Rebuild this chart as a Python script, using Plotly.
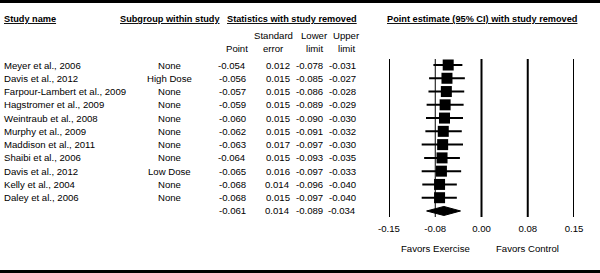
import plotly.graph_objects as go

# ---------------- data ----------------
studies = ["Meyer et al., 2006", "Davis et al., 2012", "Farpour-Lambert et al., 2009",
           "Hagstromer et al., 2009", "Weintraub et al., 2008", "Murphy et al., 2009",
           "Maddison et al., 2011", "Shaibi et al., 2006", "Davis et al., 2012",
           "Kelly et al., 2004", "Daley et al., 2006"]
subgroups = ["None", "High Dose", "None", "None", "None", "None", "None", "None",
             "Low Dose", "None", "None"]
points = [-0.054, -0.056, -0.057, -0.059, -0.060, -0.062, -0.063, -0.064, -0.065, -0.068, -0.068]
std_err = [0.012, 0.015, 0.015, 0.015, 0.015, 0.015, 0.017, 0.015, 0.016, 0.014, 0.015]
lower = [-0.078, -0.085, -0.086, -0.089, -0.090, -0.091, -0.097, -0.093, -0.097, -0.096, -0.097]
upper = [-0.031, -0.027, -0.028, -0.029, -0.030, -0.032, -0.030, -0.035, -0.033, -0.040, -0.040]
summary_point = -0.061
summary_se = 0.014
summary_lower = -0.089
summary_upper = -0.034
tick_vals = [-0.15, -0.075, 0.0, 0.075, 0.15]
tick_text = ["-0.15", "-0.08", "0.00", "0.08", "0.15"]

# ---------------- layout helpers ----------------
W, H = 600, 273
ROW0, ROWH = 65.0, 13.27
FONT = "Liberation Sans, Arial, sans-serif"
FS = 9.6
FSB = 9.2


def py2row(py):
    return (py - ROW0) / ROWH


def px(x):
    return x / W


def ppy(y):
    return 1 - y / H


n = len(studies)
rows = list(range(n))
sum_row = n

fig = go.Figure()

# study estimates with 95% CI
fig.add_trace(go.Scatter(
    x=points, y=rows, mode="markers",
    marker=dict(symbol="square", size=11, color="black", line=dict(width=0)),
    error_x=dict(type="data", symmetric=False,
                 array=[u - p for u, p in zip(upper, points)],
                 arrayminus=[p - l for l, p in zip(lower, points)],
                 color="black", thickness=2, width=0),
    showlegend=False, hoverinfo="skip"))

# summary diamond
dh = 0.34
fig.add_trace(go.Scatter(
    x=[summary_lower, summary_point, summary_upper, summary_point, summary_lower],
    y=[sum_row, sum_row - dh, sum_row, sum_row + dh, sum_row],
    mode="lines", fill="toself", fillcolor="black", line=dict(color="black", width=1),
    showlegend=False, hoverinfo="skip"))

# vertical reference lines
y_top, y_bot = py2row(59), py2row(217)
for tv in tick_vals:
    fig.add_shape(type="line", xref="x", yref="y", x0=tv, x1=tv, y0=y_top, y1=y_bot,
                  line=dict(color="black", width=1 if tv == -0.075 else 2))

ann = []


def add(text, x, y, xanchor="left", yref="y", xref="paper", bold=False, under=False):
    f = dict(family=FONT, size=FSB if bold else FS, color="black")
    if bold:
        f["weight"] = "bold"
    if under:
        f["lineposition"] = "under"
    ann.append(dict(text=text, x=x, y=y, xref=xref, yref=yref, xanchor=xanchor,
                    yanchor="middle", showarrow=False, font=f))


# headers
add("Study name", px(2), ppy(19), "left", "paper", bold=True, under=True)
add("Subgroup within study", px(170), ppy(19), "center", "paper", bold=True, under=True)
add("Statistics with study removed", px(292), ppy(19), "center", "paper", bold=True, under=True)
add("Point estimate (95% CI) with study removed", px(482), ppy(19), "center", "paper",
    bold=True, under=True)
add("Point", px(237), ppy(48), "center", "paper")
add("Standard", px(273), ppy(36), "center", "paper")
add("error", px(273), ppy(48), "center", "paper")
add("Lower", px(314), ppy(36), "center", "paper")
add("limit", px(314), ppy(48), "center", "paper")
add("Upper", px(346), ppy(36), "center", "paper")
add("limit", px(346), ppy(48), "center", "paper")

# table rows
for i in rows:
    add(studies[i], px(2), i, "left")
    add(subgroups[i], px(169), i, "center")
    add(f"{points[i]:.3f}", px(248), i, "right")
    add(f"{std_err[i]:.3f}", px(292), i, "right")
    add(f"{lower[i]:.3f}", px(325), i, "right")
    add(f"{upper[i]:.3f}", px(358), i, "right")
add(f"{summary_point:.3f}", px(248), sum_row, "right")
add(f"{summary_se:.3f}", px(292), sum_row, "right")
add(f"{summary_lower:.3f}", px(325), sum_row, "right")
add(f"{summary_upper:.3f}", px(358), sum_row, "right")

# favors labels
add("Favors Exercise", tick_vals[1], ppy(248), "center", "paper", xref="x")
add("Favors Control", tick_vals[3], ppy(248), "center", "paper", xref="x")

# top and bottom borders
for yb in (1.5, 271.5):
    fig.add_shape(type="line", xref="paper", yref="paper", x0=0, x1=1,
                  y0=ppy(yb), y1=ppy(yb), line=dict(color="black", width=3))

fig.update_layout(
    width=W, height=H, margin=dict(l=0, r=0, t=0, b=0, pad=0, autoexpand=False),
    paper_bgcolor="white", plot_bgcolor="white",
    font=dict(family=FONT, size=FS, color="black"),
    annotations=ann,
    xaxis=dict(domain=[px(389), px(574)], range=[-0.15, 0.15],
               tickvals=tick_vals, ticktext=tick_text, showgrid=False, zeroline=False,
               showline=False, ticks="", anchor="free", position=ppy(217),
               automargin=False, ticklabelstandoff=4,
               tickfont=dict(family=FONT, size=FS, color="black"), fixedrange=True),
    yaxis=dict(range=[py2row(H), py2row(0)], visible=False, showgrid=False,
               zeroline=False, fixedrange=True, automargin=False),
    showlegend=False,
)

fig.write_html("out.html", config={"displayModeBar": False},
               post_script="document.body.style.margin='0';document.body.style.padding='0';")
